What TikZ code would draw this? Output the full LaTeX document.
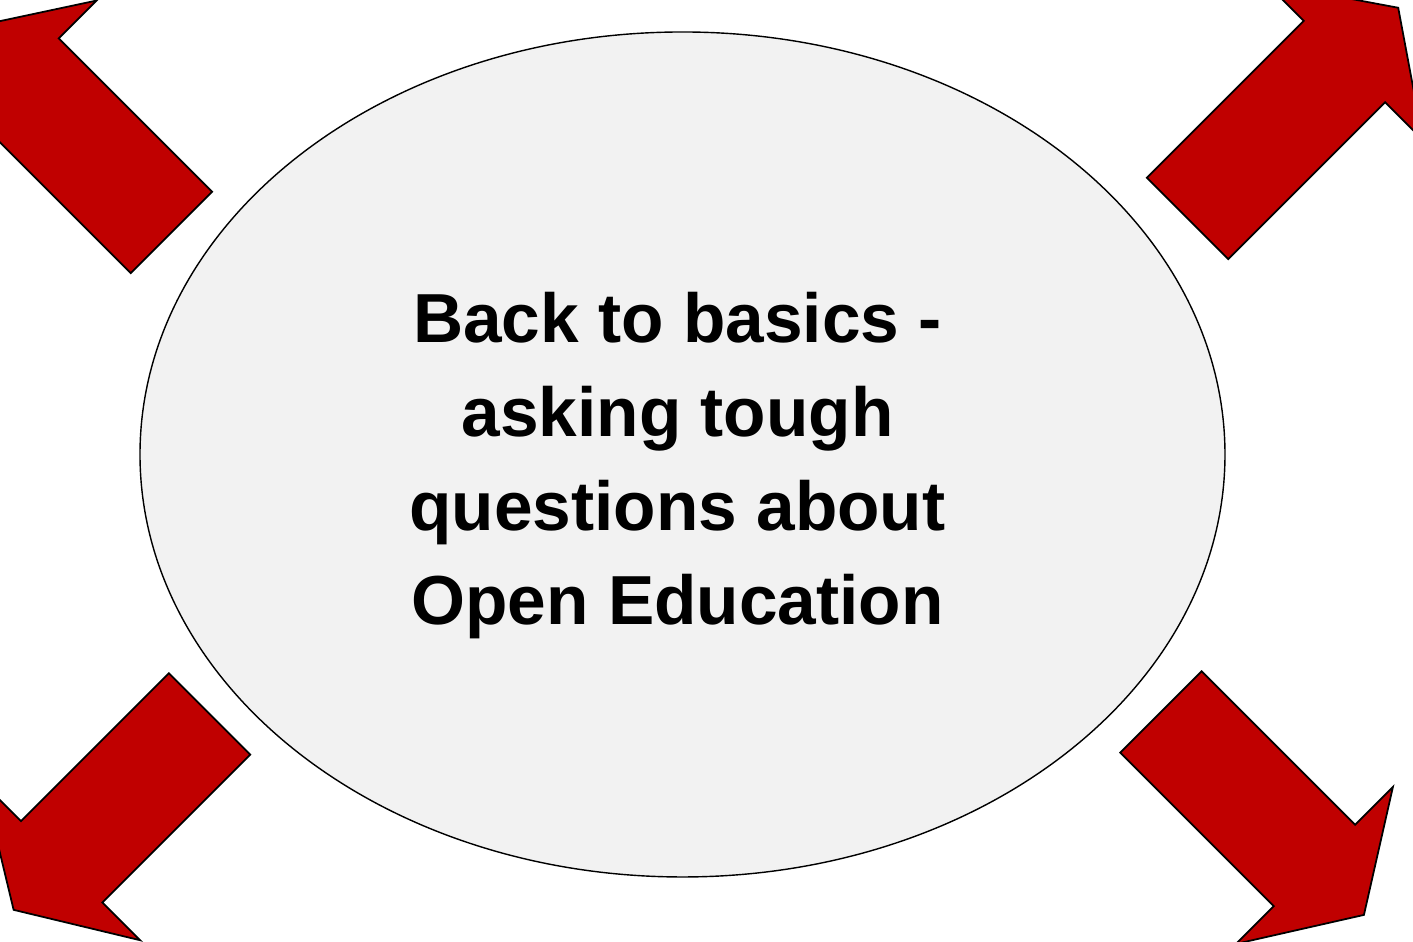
\documentclass[tikz,border=0pt]{standalone}
\usepackage{amssymb}
\usepackage{xcolor}
\usepackage{fontspec}
\setmainfont{Liberation Sans}
\usepackage{tikz}
\usetikzlibrary{shapes.geometric, calc}
\definecolor{arrowred}{RGB}{192,0,0}
\definecolor{ovalgray}{RGB}{242,242,242}

\begin{document}
\begin{tikzpicture}
                \useasboundingbox (0,0) rectangle (14.13,9.42);
                \clip (0,0) rectangle (14.13,9.42);
                % Arrows in the corners
                \foreach \x/\y/\a/\l/\h in {1.715/7.095/135/2.17/0.72, 11.875/7.235/45/2.22/0.76, 2.095/2.28/225/2.09/0.68, 11.61/2.30/315/2.17/0.70} {
                    \draw[fill=arrowred, line width=0.5pt, shift={(\x,\y)}, rotate=\a] (0,-0.575) -- (\l,-0.575) -- (\l,-1.11) -- (\l+\h,0) -- (\l,1.11) -- (\l,0.575) -- (0,0.575) -- cycle;
                }
                % Oval with title
                \node[ellipse, draw, line width=0.4pt, fill=ovalgray, minimum width=10.85cm, minimum height=8.45cm, inner sep=0pt] (oval) at (6.825,4.875) {};
                \node[align=center, font=\bfseries\fontsize{19.75}{26.7}\selectfont] (title) at ($(oval.center)+(-0.05,-0.11)$) {Back to basics -\\asking tough\\questions about\\Open Education};
\end{tikzpicture}
\end{document}
